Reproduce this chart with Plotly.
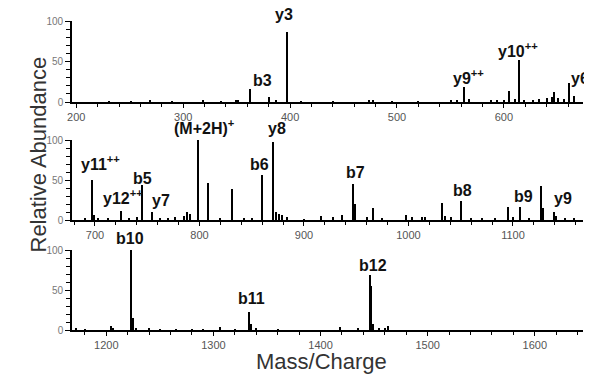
import plotly.graph_objects as go

# ---------------- data ----------------
# Panel 1 (m/z 200-670)
mz1 = [231, 251, 269, 290, 319, 335, 349, 351, 363, 380, 387, 397, 410, 440, 474, 478, 495,
       520, 551, 556, 563, 567, 588, 594, 600, 605, 610, 614, 619, 627, 633, 640, 645, 647,
       651, 656, 661, 666]
int1 = [1, 1, 3, 1, 2, 1, 2, 2, 16, 6, 2, 86, 1, 1, 2, 2, 1,
        1, 3, 2, 18, 4, 2, 3, 3, 13, 4, 52, 3, 2, 4, 5, 6, 12,
        5, 4, 24, 8]

# Panel 2 (m/z 680-1165)
mz2 = [690, 697, 699, 703, 712, 725, 733, 740, 745, 755, 762, 770, 777, 785, 788, 791, 799,
       808, 820, 831, 843, 850, 860, 870, 873, 876, 879, 884, 900, 916, 928, 936, 947, 949,
       960, 966, 975, 998, 1003, 1013, 1016, 1032, 1035, 1041, 1050, 1060, 1070, 1083,
       1095, 1100, 1107, 1115, 1127, 1129, 1139, 1141, 1150, 1158]
int2 = [2, 50, 6, 3, 3, 11, 3, 4, 44, 10, 3, 3, 4, 5, 10, 8, 100,
        46, 2, 39, 3, 3, 56, 97, 10, 8, 6, 4, 1, 5, 4, 6, 45, 20,
        4, 15, 3, 6, 4, 4, 4, 21, 5, 4, 24, 3, 3, 3,
        16, 4, 16, 3, 42, 15, 10, 5, 3, 3]

# Panel 3 (m/z 1170-1645)
mz3 = [1172, 1180, 1204, 1206, 1223, 1225, 1228, 1240, 1250, 1265, 1280, 1290, 1306, 1320,
       1333, 1335, 1340, 1360, 1418, 1435, 1446, 1447, 1449, 1455, 1460, 1463]
int3 = [2, 1, 5, 2, 100, 15, 3, 3, 1, 1, 1, 1, 4, 1,
        22, 8, 2, 1, 4, 2, 69, 55, 8, 2, 3, 5]

# Fragment labels: (text, m/z, relative height where label sits, extra pixel lift)
labels1 = [("y3", 394, 100, 7), ("b3", 374, 27, 0), ("y9<sup>++</sup>", 567, 31, 0),
           ("y10<sup>++</sup>", 613, 64, 0), ("y6", 671, 29, 0)]
labels2 = [("(M+2H)<sup>+</sup>", 805, 100, 13), ("y8", 874, 100, 12), ("y11<sup>++</sup>", 705, 71, 0),
           ("b6", 857, 69, 0), ("b5", 745, 52, 0), ("y12<sup>++</sup>", 727, 29, 0), ("y7", 763, 25, 0),
           ("b7", 949, 59, 0), ("b8", 1052, 37, 0), ("b9", 1110, 29, 0), ("y9", 1148, 27, 0)]
labels3 = [("b10", 1222, 100, 12), ("b11", 1336, 40, 0), ("b12", 1449, 81, 0)]

x_ranges = [[196, 674], [678, 1167], [1168, 1645]]
y_range = [0, 100]

# ---------------- figure ----------------
# page body has an 8px margin, so the figure is drawn 8px smaller and all pixel positions shift by 8
O = 8
W, H = 592 - O, 375 - O
L, R, T, B = 72 - O, 592 - 583, 21 - O, 375 - 330
PH = H - T - B
PW = W - L - R
fig = go.Figure()

def ydom(top_px, bot_px):
    # pixel positions measured in the browser window
    return [(375 - B - bot_px) / PH, (375 - B - top_px) / PH]

y_doms = [ydom(21, 102), ydom(140, 220), ydom(250, 330)]

panels = [(mz1, int1, labels1), (mz2, int2, labels2), (mz3, int3, labels3)]
tick_font = dict(family="Liberation Sans, Arial", size=11, color="#555555")
label_font = dict(family="Liberation Sans, Arial", size=16, color="#111111", weight="bold")

for i, (mz, inten, labs) in enumerate(panels):
    n = "" if i == 0 else str(i + 1)
    fig.add_trace(go.Bar(x=mz, y=inten, width=1.0, marker=dict(color="black", line=dict(width=0)),
                         xaxis="x" + n, yaxis="y" + n, showlegend=False))
    fig.layout["xaxis" + n] = dict(
        domain=[0, 1], range=x_ranges[i], anchor="y" + n, tick0=0, dtick=100,
        ticks="outside", ticklen=4, tickwidth=1.2, tickcolor="black",
        minor=dict(dtick=20, ticks="outside", ticklen=3, tickcolor="black", tickwidth=1),
        showline=True, linecolor="black", linewidth=1.6, showgrid=False, zeroline=False,
        tickfont=tick_font, automargin=False)
    fig.layout["yaxis" + n] = dict(
        domain=y_doms[i], range=y_range, anchor="x" + n, tick0=0, dtick=50,
        ticks="outside", ticklen=5, tickwidth=1.2, tickcolor="black",
        minor=dict(dtick=10, ticks="outside", ticklen=4, tickcolor="black", tickwidth=1),
        showline=True, linecolor="black", linewidth=1.6, showgrid=False, zeroline=False,
        tickfont=dict(family="Liberation Sans, Arial", size=10, color="#777777"), automargin=False)
    for text, x, y, lift in labs:
        fig.add_annotation(x=x, y=y, xref="x" + n, yref="y" + n, text=text, showarrow=False,
                           font=label_font, xanchor="center", yanchor="middle", yshift=lift)

fig.add_annotation(x=(23 - 72) / PW, y=(330 - 155) / PH, xref="paper", yref="paper",
                   text="Relative Abundance", textangle=-90, showarrow=False,
                   font=dict(family="Liberation Sans, Arial", size=22, color="#333333"))
fig.add_annotation(x=(321 - 72) / PW, y=(330 - 376) / PH, xref="paper", yref="paper",
                   text="Mass/Charge", showarrow=False, yanchor="bottom",
                   font=dict(family="Liberation Sans, Arial", size=22, color="#333333"))

fig.update_layout(width=W, height=H, margin=dict(l=L, r=R, t=T, b=B, autoexpand=False),
                  paper_bgcolor="white", plot_bgcolor="white", bargap=0)

fig.write_html("out.html")
